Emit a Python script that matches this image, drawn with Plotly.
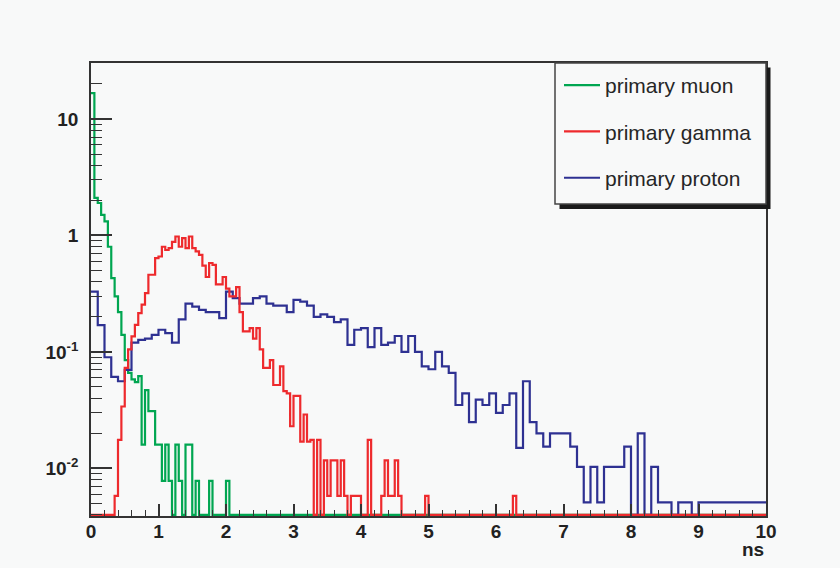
import plotly.graph_objects as go

# ---------------- data ----------------
# bin widths in ns
muon_bin_width = 0.05
gamma_bin_width = 0.05
proton_bin_width = 0.1

muon_values = [
    16.7, 2.1, 1.9, 1.5, 1.32, 0.8, 0.43, 0.3, 0.22, 0.14,
    0.085, 0.066, 0.058, 0.055, 0.062, 0.016, 0.047, 0.031, 0.031, 0.016,
    0.016, 0.0078, 0.016, 0.0078, 0.0, 0.016, 0.0078, 0.0, 0.016, 0.016,
    0.0, 0.0078, 0.0, 0.0, 0.0, 0.0078, 0.0, 0.0, 0.0, 0.0,
    0.0078, 0.0, 0.0, 0.0, 0.0, 0.0, 0.0, 0.0, 0.0, 0.0,
    0.0, 0.0, 0.0, 0.0, 0.0, 0.0, 0.0, 0.0, 0.0, 0.0,
    0.0, 0.0, 0.0, 0.0, 0.0, 0.0, 0.0, 0.0, 0.0, 0.0,
    0.0, 0.0, 0.0, 0.0, 0.0, 0.0, 0.0, 0.0, 0.0, 0.0,
    0.0, 0.0, 0.0, 0.0, 0.0, 0.0, 0.0, 0.0, 0.0, 0.0,
    0.0, 0.0, 0.0, 0.0, 0.0, 0.0, 0.0, 0.0, 0.0, 0.0,
    0.0, 0.0, 0.0, 0.0, 0.0, 0.0, 0.0, 0.0, 0.0, 0.0,
    0.0, 0.0, 0.0, 0.0, 0.0, 0.0, 0.0, 0.0, 0.0, 0.0,
    0.0, 0.0, 0.0, 0.0, 0.0, 0.0, 0.0, 0.0, 0.0, 0.0,
    0.0, 0.0, 0.0, 0.0, 0.0, 0.0, 0.0, 0.0, 0.0, 0.0,
    0.0, 0.0, 0.0, 0.0, 0.0, 0.0, 0.0, 0.0, 0.0, 0.0,
    0.0, 0.0, 0.0, 0.0, 0.0, 0.0, 0.0, 0.0, 0.0, 0.0,
    0.0, 0.0, 0.0, 0.0, 0.0, 0.0, 0.0, 0.0, 0.0, 0.0,
    0.0, 0.0, 0.0, 0.0, 0.0, 0.0, 0.0, 0.0, 0.0, 0.0,
    0.0, 0.0, 0.0, 0.0, 0.0, 0.0, 0.0, 0.0, 0.0, 0.0,
    0.0, 0.0, 0.0, 0.0, 0.0, 0.0, 0.0, 0.0, 0.0, 0.0,
]

gamma_values = [
    0.0, 0.0, 0.0, 0.0, 0.0, 0.0, 0.0, 0.0058, 0.0176, 0.034,
    0.073, 0.105, 0.136, 0.171, 0.215, 0.255, 0.32, 0.46, 0.46, 0.64,
    0.66, 0.8, 0.75, 0.78, 0.88, 0.98, 0.8, 0.95, 0.78, 0.98,
    0.78, 0.73, 0.68, 0.55, 0.44, 0.58, 0.56, 0.38, 0.38, 0.44,
    0.35, 0.3, 0.3, 0.36, 0.22, 0.15, 0.15, 0.16, 0.13, 0.16,
    0.105, 0.073, 0.073, 0.085, 0.052, 0.052, 0.075, 0.046, 0.044, 0.023,
    0.042, 0.042, 0.017, 0.029, 0.017, 0.0176, 0.0, 0.0176, 0.0, 0.0117,
    0.0058, 0.0117, 0.0117, 0.0058, 0.0117, 0.0058, 0.0, 0.0058, 0.0058, 0.0058,
    0.0, 0.0, 0.0176, 0.0, 0.0, 0.0, 0.0058, 0.0117, 0.0058, 0.0058,
    0.0117, 0.0058, 0.0, 0.0, 0.0, 0.0, 0.0, 0.0, 0.0, 0.0058,
    0.0, 0.0, 0.0, 0.0, 0.0, 0.0, 0.0, 0.0, 0.0, 0.0,
    0.0, 0.0, 0.0, 0.0, 0.0, 0.0, 0.0, 0.0, 0.0, 0.0,
    0.0, 0.0, 0.0, 0.0, 0.0, 0.0058, 0.0, 0.0, 0.0, 0.0,
    0.0, 0.0, 0.0, 0.0, 0.0, 0.0, 0.0, 0.0, 0.0, 0.0,
    0.0, 0.0, 0.0, 0.0, 0.0, 0.0, 0.0, 0.0, 0.0, 0.0,
    0.0, 0.0, 0.0, 0.0, 0.0, 0.0, 0.0, 0.0, 0.0, 0.0,
    0.0, 0.0, 0.0, 0.0, 0.0, 0.0, 0.0, 0.0, 0.0, 0.0,
    0.0, 0.0, 0.0, 0.0, 0.0, 0.0, 0.0, 0.0, 0.0, 0.0,
    0.0, 0.0, 0.0, 0.0, 0.0, 0.0, 0.0, 0.0, 0.0, 0.0,
    0.0, 0.0, 0.0, 0.0, 0.0, 0.0, 0.0, 0.0, 0.0, 0.0,
]

proton_values = [
    0.33, 0.17, 0.09, 0.061, 0.056, 0.07, 0.12, 0.127, 0.13, 0.14,
    0.155, 0.145, 0.12, 0.19, 0.26, 0.245, 0.23, 0.22, 0.22, 0.195,
    0.33, 0.29, 0.26, 0.26, 0.29, 0.3, 0.26, 0.25, 0.25, 0.22,
    0.28, 0.27, 0.25, 0.2, 0.21, 0.2, 0.18, 0.19, 0.115, 0.155,
    0.16, 0.11, 0.16, 0.115, 0.12, 0.137, 0.1, 0.137, 0.1, 0.075,
    0.071, 0.1, 0.075, 0.066, 0.035, 0.044, 0.025, 0.039, 0.035, 0.044,
    0.03, 0.035, 0.044, 0.015, 0.056, 0.025, 0.02, 0.0154, 0.02, 0.02,
    0.02, 0.0154, 0.0103, 0.0051, 0.0103, 0.0051, 0.0103, 0.0103, 0.0103, 0.0154,
    0.0, 0.02, 0.0, 0.0103, 0.0051, 0.0051, 0.0, 0.0051, 0.0051, 0.0,
    0.0051, 0.0051, 0.0051, 0.0051, 0.0051, 0.0051, 0.0051, 0.0051, 0.0051, 0.0051,
]

series_names = ["primary muon", "primary gamma", "primary proton"]
x_tick_values = [0, 1, 2, 3, 4, 5, 6, 7, 8, 9, 10]
y_tick_values = [0.01, 0.1, 1, 10]
y_tick_labels = ["<b>10<sup>-2</sup></b>", "<b>10<sup>-1</sup></b>", "<b>1</b>", "<b>10</b>"]
x_title = "ns"

# ---------------- style ----------------
BG = "#f8f9f9"
AXIS = "#333333"
GREEN = "#00a651"
RED = "#ee2a2d"
BLUE = "#2e3192"
FONT = "Liberation Sans, Arial, Helvetica, sans-serif"

Y_LOG_MIN = -2.409
Y_LOG_MAX = 1.481
FLOOR = 10 ** (Y_LOG_MIN + 0.009)  # empty bins sit on the bottom axis, as in ROOT


def step_xy(values, width):
    edges = [round(i * width, 6) for i in range(len(values) + 1)]
    ys = [v if v > 0 else FLOOR for v in values]
    ys = ys + [ys[-1]]
    return edges, ys


fig = go.Figure()

traces = [
    (muon_values, muon_bin_width, GREEN, series_names[0], 1),
    (proton_values, proton_bin_width, BLUE, series_names[2], 3),
    (gamma_values, gamma_bin_width, RED, series_names[1], 2),
]
for vals, w, col, name, rank in traces:
    xs, ys = step_xy(vals, w)
    fig.add_trace(go.Scatter(
        x=xs, y=ys, mode="lines", name=name,
        line=dict(color=col, width=2.2, shape="hv"),
        legendgroup=name, legendrank=rank,
        hoverinfo="skip",
    ))

# plot-area pixel geometry (legend frame and shadow)
L, R, T, B = 91, 766, 63, 516
W, H = R - L, B - T


def px_x(p):
    return (p - L) / W


def px_y(p):
    return (B - p) / H


# legend shadow and frame (ROOT TLegend style)
fig.add_shape(type="rect", xref="paper", yref="paper",
              x0=px_x(559.5), x1=px_x(770.5), y0=px_y(209), y1=px_y(67.5),
              fillcolor="#1a1a1a", line=dict(width=0), layer="above")
fig.add_shape(type="rect", xref="paper", yref="paper",
              x0=px_x(555), x1=px_x(766), y0=px_y(204), y1=px_y(63),
              fillcolor=BG, line=dict(color="#444", width=1.5), layer="above")

fig.add_annotation(text="<b>" + x_title + "</b>", xref="paper", yref="paper",
                   x=1.0, y=px_y(549), xanchor="right", yanchor="middle",
                   showarrow=False, font=dict(family=FONT, size=19, color="#222"))

fig.update_layout(
    width=840, height=568,
    margin=dict(l=L, r=840 - R, t=T, b=568 - B),
    paper_bgcolor=BG, plot_bgcolor=BG,
    showlegend=True,
    legend=dict(
        x=px_x(559), y=px_y(65), xanchor="left", yanchor="top",
        bgcolor="rgba(0,0,0,0)", borderwidth=0,
        font=dict(family=FONT, size=21, color="#262626"),
        tracegroupgap=16, itemwidth=36,
    ),
)

fig.update_xaxes(
    range=[0, 10], showgrid=False, zeroline=False,
    showline=True, linecolor=AXIS, linewidth=1.5, mirror=True,
    tickmode="array", tickvals=x_tick_values,
    ticks="inside", ticklen=12, tickwidth=1.5, tickcolor=AXIS,
    minor=dict(dtick=0.2, ticks="inside", ticklen=6, tickwidth=1.2, tickcolor=AXIS, showgrid=False),
    tickfont=dict(family=FONT, size=19, color="#222", weight="bold"),
    ticklabelstandoff=-3,
)

minor_vals = [m * 10 ** e for e in range(-3, 2) for m in range(2, 10)]
fig.update_yaxes(
    type="log", range=[Y_LOG_MIN, Y_LOG_MAX], showgrid=False, zeroline=False,
    showline=True, linecolor=AXIS, linewidth=1.5, mirror=True,
    tickmode="array", tickvals=y_tick_values, ticktext=y_tick_labels,
    ticks="inside", ticklen=21, tickwidth=1.5, tickcolor=AXIS,
    minor=dict(tickmode="array", tickvals=minor_vals, ticks="inside", ticklen=11,
               tickwidth=1.2, tickcolor=AXIS, showgrid=False),
    tickfont=dict(family=FONT, size=19, color="#222"),
    ticklabelstandoff=7,
)

fig.write_html(
    "out.html",
    config={"displayModeBar": False},
    post_script="document.body.style.margin='0px';document.body.style.background='" + BG + "';",
)
